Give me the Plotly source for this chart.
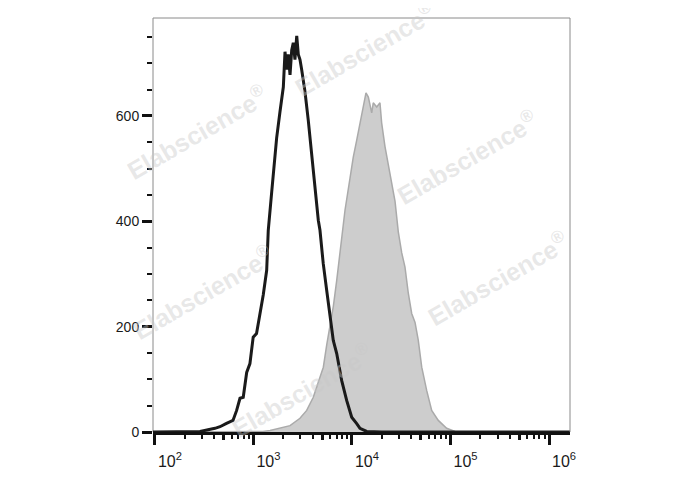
import plotly.graph_objects as go

# ---- data (log10 of fluorescence, event counts) ----
black_log = [1.98, 2.40, 2.457, 2.609, 2.660, 2.721, 2.792, 2.829, 2.863, 2.896, 2.931, 2.964,
             2.997, 3.031, 3.066, 3.099, 3.134, 3.150, 3.185, 3.201, 3.235, 3.269, 3.303,
             3.320, 3.337, 3.353, 3.371, 3.388, 3.404, 3.421, 3.439, 3.455, 3.472, 3.489,
             3.523, 3.556, 3.591, 3.624, 3.658, 3.675, 3.708, 3.743, 3.777, 3.810, 3.845,
             3.895, 3.946, 3.997, 4.048, 4.081, 4.149, 4.30, 6.21]
black_cnt = [0, 0, 1, 7, 10, 16, 22, 41, 64, 66, 113, 130,
             180, 187, 225, 260, 307, 383, 456, 492, 558, 608, 655,
             722, 688, 717, 678, 725, 739, 707, 752, 717, 707, 688,
             646, 592, 526, 459, 402, 383, 320, 269, 218, 174, 149,
             98, 60, 28, 16, 7, 1, 0, 0]

gray_log = [1.98, 3.00, 3.096, 3.168, 3.269, 3.371, 3.472, 3.540, 3.607, 3.675, 3.709, 3.743,
            3.777, 3.811, 3.845, 3.895, 3.929, 3.980, 4.013, 4.048, 4.081, 4.115, 4.142,
            4.166, 4.200, 4.216, 4.251, 4.284, 4.301, 4.335, 4.386, 4.437, 4.470, 4.505,
            4.538, 4.572, 4.606, 4.640, 4.673, 4.708, 4.758, 4.809, 4.876, 4.961, 5.046,
            5.10, 6.21]
gray_cnt = [0, 0, 1, 3, 7, 12, 26, 41, 66, 104, 123, 165,
            199, 239, 288, 374, 421, 482, 522, 554, 587, 617, 644,
            636, 606, 625, 617, 625, 587, 542, 492, 438, 380, 340,
            313, 263, 225, 208, 174, 123, 79, 41, 22, 7, 1,
            0, 0]

decades = [2, 3, 4, 5, 6]
major_labels = ["10<sup>2</sup>", "10<sup>3</sup>", "10<sup>4</sup>", "10<sup>5</sup>", "10<sup>6</sup>"]
y_major = [0, 200, 400, 600]

major_vals = [10 ** d for d in decades]
minor_vals = [m * 10 ** d for d in [1] + decades for m in (2, 3, 4, 6, 7, 8, 9)]
five_vals = [5 * 10 ** d for d in [1] + decades]

xr = [1.98, 6.213]
yr = [0, 786]

fig = go.Figure()
fig.add_trace(go.Scatter(
    x=[10 ** v for v in gray_log], y=gray_cnt, mode="lines", fill="tozeroy",
    line=dict(color="#aaaaaa", width=1.5), fillcolor="#cdcdcd", hoverinfo="skip",
    showlegend=False))
fig.add_trace(go.Scatter(
    x=[10 ** v for v in black_log], y=black_cnt, mode="lines",
    line=dict(color="#1a1a1a", width=3), hoverinfo="skip", showlegend=False))
# helper (empty) trace for the secondary tick axis
fig.add_trace(go.Scatter(x=[], y=[], xaxis="x2", showlegend=False))

font = dict(family="Liberation Sans, Arial, sans-serif", color="#1a1a1a")

fig.update_layout(
    width=688, height=490,
    margin=dict(l=145, r=126, t=10, b=66),
    paper_bgcolor="white", plot_bgcolor="white",
    xaxis=dict(
        type="log", range=xr, showgrid=False, zeroline=False,
        showline=True, linecolor="#111", linewidth=3,
        tickmode="array", tickvals=major_vals, ticktext=major_labels,
        ticks="outside", ticklen=10, tickwidth=3, tickcolor="#111",
        ticklabelshift=15, ticklabelstandoff=3,
        tickfont=dict(size=16, **font),
        minor=dict(tickmode="array", tickvals=minor_vals, ticks="outside",
                   ticklen=4, tickwidth=1.5, tickcolor="#111", showgrid=False),
    ),
    xaxis2=dict(
        type="log", range=xr, overlaying="x", anchor="y", side="bottom",
        showgrid=False, zeroline=False, showline=False,
        tickmode="array", tickvals=five_vals, showticklabels=False,
        ticks="outside", ticklen=7, tickwidth=2.5, tickcolor="#111",
    ),
    yaxis=dict(
        range=yr, showgrid=False, zeroline=False, showline=False,
        tickmode="array", tickvals=y_major,
        ticks="outside", ticklen=10, tickwidth=3, tickcolor="#111",
        tickfont=dict(size=14, **font),
        minor=dict(dtick=50, tick0=0, ticks="outside", ticklen=5, tickwidth=1.5,
                   tickcolor="#111", showgrid=False),
    ),
    shapes=[dict(type="rect", xref="x domain", yref="y domain", x0=0, x1=1, y0=0, y1=1,
                 line=dict(color="#8a8a8a", width=1), layer="below")],
)

# watermarks (positions relative to the plotting area)
wm_pos = [(0.105, 0.725), (0.508, 0.925), (0.753, 0.665), (0.120, 0.338),
          (0.828, 0.372), (0.357, 0.101)]
for (px, py) in wm_pos:
    fig.add_annotation(
        x=px, y=py, xref="paper", yref="paper", showarrow=False,
        xanchor="center", yanchor="middle",
        text="Elabscience<sup>®</sup>", textangle=-30,
        font=dict(family="Liberation Sans, Arial, sans-serif", size=25,
                  color="rgba(200,200,200,0.42)", weight="bold"),
    )

fig.write_html("out.html")
